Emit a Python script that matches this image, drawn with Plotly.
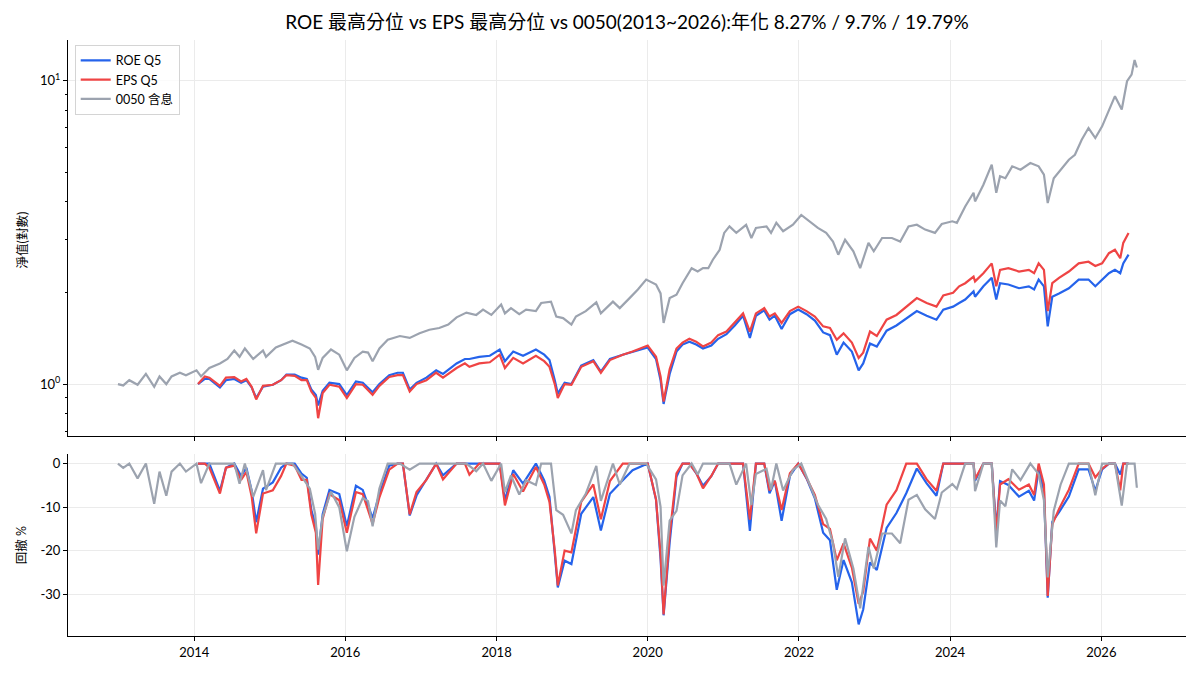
import pandas as pd
import plotly.graph_objects as go
from plotly.subplots import make_subplots

# 0050 total-return net value (decimal year, value)
etf_t = [2012.99, 2013.06, 2013.14, 2013.25, 2013.36, 2013.47, 2013.54, 2013.63, 2013.70, 2013.81,
         2013.89, 2014.03, 2014.09, 2014.20, 2014.34, 2014.44, 2014.53, 2014.60, 2014.67, 2014.78,
         2014.91, 2014.95, 2015.08, 2015.17, 2015.30, 2015.42, 2015.53, 2015.60, 2015.64, 2015.70,
         2015.81, 2015.92, 2016.02, 2016.12, 2016.23, 2016.30, 2016.36, 2016.45, 2016.56, 2016.72,
         2016.85, 2016.98, 2017.11, 2017.24, 2017.36, 2017.47, 2017.60, 2017.73, 2017.82, 2017.93,
         2018.06, 2018.11, 2018.19, 2018.30, 2018.39, 2018.52, 2018.59, 2018.72, 2018.79, 2018.88,
         2018.99, 2019.05, 2019.18, 2019.32, 2019.38, 2019.54, 2019.63, 2019.76, 2019.87, 2019.98,
         2020.11, 2020.17, 2020.21, 2020.29, 2020.38, 2020.46, 2020.58, 2020.66, 2020.73, 2020.80,
         2020.86, 2020.95, 2021.01, 2021.08, 2021.17, 2021.30, 2021.37, 2021.43, 2021.57, 2021.63,
         2021.70, 2021.79, 2021.92, 2022.03, 2022.14, 2022.25, 2022.36, 2022.45, 2022.52, 2022.61,
         2022.72, 2022.81, 2022.92, 2022.99, 2023.10, 2023.23, 2023.34, 2023.45, 2023.56, 2023.67,
         2023.80, 2023.89, 2024.03, 2024.09, 2024.20, 2024.31, 2024.33, 2024.44, 2024.55, 2024.61,
         2024.66, 2024.73, 2024.82, 2024.93, 2025.06, 2025.17, 2025.24, 2025.29, 2025.37, 2025.46,
         2025.57, 2025.65, 2025.74, 2025.83, 2025.92, 2026.01, 2026.10, 2026.18, 2026.27, 2026.34,
         2026.40, 2026.44, 2026.47]
etf_v = [1.00, 0.99, 1.03, 0.995, 1.08, 0.98, 1.06, 1.00, 1.06, 1.09,
         1.07, 1.11, 1.06, 1.13, 1.17, 1.21, 1.29, 1.23, 1.31, 1.21,
         1.29, 1.23, 1.32, 1.35, 1.39, 1.35, 1.31, 1.23, 1.115, 1.22,
         1.30, 1.25, 1.11, 1.22, 1.28, 1.27, 1.19, 1.31, 1.40, 1.44,
         1.42, 1.47, 1.51, 1.53, 1.57, 1.66, 1.72, 1.69, 1.76, 1.69,
         1.83, 1.71, 1.78, 1.70, 1.76, 1.74, 1.85, 1.87, 1.67, 1.65,
         1.57, 1.67, 1.74, 1.86, 1.71, 1.87, 1.78, 1.92, 2.05, 2.21,
         2.13, 1.99, 1.59, 1.92, 1.97, 2.15, 2.41, 2.35, 2.41, 2.41,
         2.57, 2.77, 3.15, 3.31, 3.15, 3.35, 3.03, 3.27, 3.31, 3.15,
         3.40, 3.19, 3.35, 3.61, 3.44, 3.27, 3.15, 2.95, 2.67, 2.99,
         2.74, 2.41, 2.92, 2.74, 3.03, 3.03, 2.95, 3.31, 3.35, 3.23,
         3.15, 3.37, 3.44, 3.40, 3.85, 4.27, 4.00, 4.54, 5.29, 4.27,
         4.84, 4.77, 5.22, 5.09, 5.35, 5.22, 4.90, 3.95, 4.77, 5.09,
         5.49, 5.70, 6.39, 6.98, 6.47, 7.07, 8.03, 8.89, 8.03, 9.96,
         10.47, 11.70, 11.05]

# ROE Q5 / EPS Q5 portfolios share the same sample dates
q5_t = [2014.05, 2014.14, 2014.20, 2014.34, 2014.42, 2014.53, 2014.62, 2014.69, 2014.76, 2014.82,
        2014.91, 2015.04, 2015.15, 2015.22, 2015.33, 2015.42, 2015.49, 2015.55, 2015.61, 2015.64,
        2015.70, 2015.79, 2015.92, 2016.02, 2016.14, 2016.23, 2016.36, 2016.45, 2016.58, 2016.69,
        2016.76, 2016.85, 2016.94, 2017.07, 2017.20, 2017.29, 2017.47, 2017.58, 2017.64, 2017.77,
        2017.91, 2018.04, 2018.11, 2018.22, 2018.35, 2018.52, 2018.63, 2018.70, 2018.77, 2018.81,
        2018.90, 2018.99, 2019.12, 2019.28, 2019.38, 2019.50, 2019.67, 2019.80, 2020.00, 2020.11,
        2020.17, 2020.21, 2020.29, 2020.38, 2020.46, 2020.55, 2020.64, 2020.73, 2020.84, 2020.93,
        2021.04, 2021.15, 2021.26, 2021.35, 2021.43, 2021.54, 2021.61, 2021.68, 2021.77, 2021.88,
        2021.99, 2022.10, 2022.21, 2022.32, 2022.41, 2022.50, 2022.59, 2022.70, 2022.79, 2022.85,
        2022.94, 2023.03, 2023.16, 2023.29, 2023.42, 2023.56, 2023.69, 2023.82, 2023.91, 2024.04,
        2024.12, 2024.20, 2024.31, 2024.33, 2024.44, 2024.55, 2024.61, 2024.66, 2024.77, 2024.91,
        2025.04, 2025.11, 2025.17, 2025.24, 2025.29, 2025.35, 2025.44, 2025.57, 2025.70, 2025.83,
        2025.92, 2026.01, 2026.10, 2026.18, 2026.25, 2026.29, 2026.36]
roe_v = [1.00, 1.04, 1.04, 0.975, 1.03, 1.04, 1.01, 1.03, 0.975, 0.90,
         0.98, 0.995, 1.03, 1.075, 1.075, 1.05, 1.04, 0.96, 0.92, 0.85,
         0.95, 1.01, 1.00, 0.92, 1.02, 1.01, 0.94, 1.00, 1.07, 1.09,
         1.09, 0.96, 1.01, 1.05, 1.11, 1.08, 1.17, 1.21, 1.21, 1.23,
         1.24, 1.30, 1.19, 1.28, 1.24, 1.30, 1.25, 1.20, 1.03, 0.93,
         1.01, 1.00, 1.15, 1.20, 1.10, 1.21, 1.25, 1.28, 1.32, 1.21,
         1.03, 0.86, 1.08, 1.28, 1.35, 1.38, 1.35, 1.31, 1.34, 1.41,
         1.46, 1.56, 1.68, 1.42, 1.68, 1.75, 1.63, 1.68, 1.52, 1.70,
         1.76, 1.70, 1.62, 1.48, 1.45, 1.25, 1.37, 1.28, 1.11, 1.17,
         1.36, 1.33, 1.50, 1.56, 1.64, 1.74, 1.68, 1.63, 1.76, 1.80,
         1.85, 1.90, 2.02, 1.94, 2.10, 2.24, 1.90, 2.15, 2.13, 2.07,
         2.10, 2.05, 2.21, 2.10, 1.55, 1.94, 1.99, 2.07, 2.21, 2.21,
         2.10, 2.21, 2.32, 2.38, 2.32, 2.50, 2.67]
eps_v = [1.00, 1.06, 1.05, 0.987, 1.05, 1.055, 1.02, 1.04, 0.98, 0.89,
         0.987, 0.995, 1.03, 1.07, 1.065, 1.03, 1.03, 0.945, 0.90, 0.772,
         0.934, 0.995, 0.98, 0.90, 1.00, 0.995, 0.922, 0.987, 1.055, 1.07,
         1.07, 0.945, 1.00, 1.03, 1.09, 1.05, 1.13, 1.17, 1.14, 1.17,
         1.18, 1.25, 1.13, 1.22, 1.17, 1.24, 1.19, 1.14, 1.00, 0.90,
         1.00, 0.995, 1.14, 1.19, 1.09, 1.20, 1.25, 1.28, 1.34, 1.23,
         1.06, 0.876, 1.12, 1.31, 1.37, 1.41, 1.38, 1.33, 1.37, 1.45,
         1.49, 1.59, 1.71, 1.49, 1.71, 1.78, 1.67, 1.71, 1.59, 1.74,
         1.80, 1.74, 1.67, 1.55, 1.53, 1.40, 1.47, 1.37, 1.22, 1.27,
         1.49, 1.44, 1.63, 1.69, 1.80, 1.92, 1.85, 1.80, 1.96, 2.00,
         2.10, 2.15, 2.26, 2.18, 2.32, 2.50, 2.10, 2.38, 2.41, 2.35,
         2.38, 2.32, 2.50, 2.38, 1.74, 2.15, 2.24, 2.35, 2.50, 2.53,
         2.45, 2.50, 2.70, 2.77, 2.60, 2.92, 3.15]

names = ["ROE Q5", "EPS Q5", "0050 含息"]
colors = ["#2563eb", "#ef4444", "#9ca3af"]
title = "ROE 最高分位 vs EPS 最高分位 vs 0050(2013~2026):年化 8.27% / 9.7% / 19.79%"


def to_dates(years):
    out = []
    for y in years:
        yr = int(y)
        start = pd.Timestamp(yr, 1, 1)
        out.append(start + (pd.Timestamp(yr + 1, 1, 1) - start) * (y - yr))
    return out


def drawdown(v):
    s = pd.Series(v)
    return ((s / s.cummax() - 1) * 100).tolist()


series = [(q5_t, roe_v), (q5_t, eps_v), (etf_t, etf_v)]

fig = make_subplots(rows=2, cols=1, shared_xaxes=True)
for (t, v), name, c in zip(series, names, colors):
    x = to_dates(t)
    fig.add_trace(go.Scatter(x=x, y=v, name=name, mode="lines",
                             line=dict(color=c, width=2.2)), row=1, col=1)
    fig.add_trace(go.Scatter(x=x, y=drawdown(v), name=name, mode="lines", showlegend=False,
                             line=dict(color=c, width=2.2)), row=2, col=1)

font = "Lato, 'Noto Sans CJK TC', sans-serif"
axis_common = dict(showline=True, linecolor="black", linewidth=1, ticks="outside",
                   ticklen=4, tickcolor="black", gridcolor="#ebebeb", gridwidth=1,
                   zeroline=False, automargin=False, tickfont=dict(size=13))

fig.update_xaxes(**axis_common, range=["2012-05-01", "2027-02-14"],
                 tick0="2014-01-01", dtick="M24", tickformat="%Y")
fig.update_yaxes(**axis_common)
fig.update_layout(
    yaxis=dict(type="log", domain=[0.3356, 1], range=[-0.171, 1.134],
               tickvals=[1, 10], ticktext=["10<sup>0</sup>", "10<sup>1</sup>"],
               minor=dict(tickvals=[0.7, 0.8, 0.9, 2, 3, 4, 5, 6, 7, 8, 9],
                          ticks="outside", ticklen=2, tickcolor="black", showgrid=False)),
    yaxis2=dict(domain=[0, 0.3054], range=[-39.6, 2.2],
                tickvals=[0, -10, -20, -30], ticktext=["0", "-10", "-20", "-30"]),
    xaxis=dict(showticklabels=False),
)

# the page adds an 8px body margin, so the margins are shifted to compensate
fig.update_layout(
    width=1200, height=675,
    margin=dict(l=60, r=22, t=32, b=47),
    paper_bgcolor="white", plot_bgcolor="white",
    font=dict(family=font, size=12, color="black"),
    title=dict(text=title, x=0.5, xref="paper", xanchor="center",
               y=1 - 14 / 675, yanchor="middle", font=dict(size=19)),
    legend=dict(x=0.006, y=0.992, xanchor="left", yanchor="top",
                bgcolor="rgba(255,255,255,0.8)", bordercolor="#d4d4d4", borderwidth=1,
                font=dict(size=12.5), tracegroupgap=0),
    showlegend=True,
    annotations=[
        dict(text="淨值(對數)", xref="paper", yref="paper", x=-0.041, y=0.664,
             xanchor="center", yanchor="middle",
             textangle=-90, showarrow=False, font=dict(size=12.5)),
        dict(text="回撤 %", xref="paper", yref="paper", x=-0.041, y=0.1527,
             xanchor="center", yanchor="middle",
             textangle=-90, showarrow=False, font=dict(size=12.5)),
    ],
)

fig.write_html("out.html")
